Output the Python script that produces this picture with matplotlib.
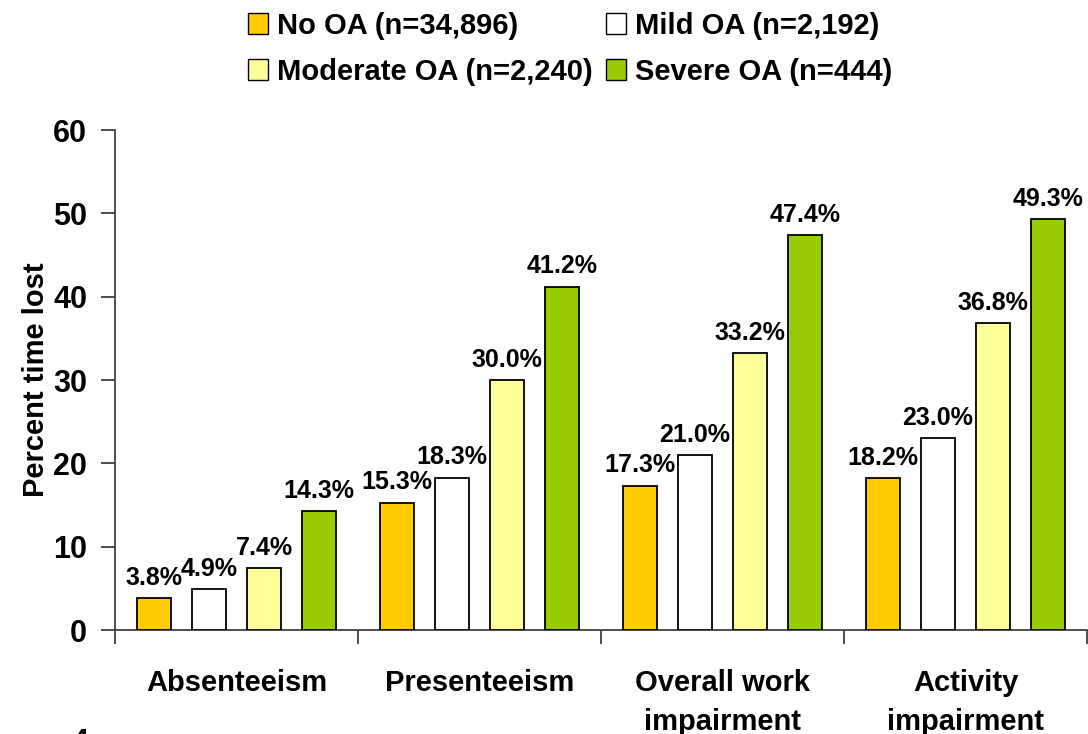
import numpy as np
import matplotlib
matplotlib.use('Agg')
import matplotlib.pyplot as plt
from matplotlib.patches import Patch

plt.rcParams['font.family'] = ['Liberation Sans', 'DejaVu Sans']
plt.rcParams['font.weight'] = 'bold'

categories = ['Absenteeism', 'Presenteeism', 'Overall work\nimpairment', 'Activity\nimpairment']
series = ['No OA (n=34,896)', 'Mild OA (n=2,192)', 'Moderate OA (n=2,240)', 'Severe OA (n=444)']
no_oa = [3.8, 15.3, 17.3, 18.2]
mild_oa = [4.9, 18.3, 21.0, 23.0]
moderate_oa = [7.4, 30.0, 33.2, 36.8]
severe_oa = [14.3, 41.2, 47.4, 49.3]
colors = ['#FFCC00', '#FFFFFF', '#FFFF99', '#99CC00']

fig = plt.figure(figsize=(10.88, 7.34), dpi=100)
ax = fig.add_axes([115/1088, 1 - 630/734, 972/1088, 500/734])

x = np.arange(len(categories))
width = 0.14
step = 0.227
for i, vals in enumerate([no_oa, mild_oa, moderate_oa, severe_oa]):
    pos = x + (i - 1.5) * step
    bars = ax.bar(pos, vals, width, color=colors[i], edgecolor='black', linewidth=1.3,
                  label=series[i], zorder=3)
    for b, v in zip(bars, vals):
        ax.annotate('%.1f%%' % v, (b.get_x() + b.get_width() / 2, v), xytext=(0, 6),
                    textcoords='offset points', ha='center', va='bottom',
                    fontsize=18, fontweight='bold')

ax.set_xlim(-0.5, 3.5)
ax.set_ylim(0, 60)
ax.set_yticks(range(0, 61, 10))
ax.set_xticks(x)
ax.set_xticklabels(categories, fontsize=21, fontweight='bold', linespacing=1.5)
ax.set_xticks(np.arange(-0.5, 4.0, 1.0), minor=True)
ax.tick_params(axis='x', which='major', length=0, pad=28)
ax.tick_params(axis='x', which='minor', length=10, width=1.3, color='#404040', direction='out')
ax.tick_params(axis='y', length=10, width=1.3, color='#404040', labelsize=22, pad=10)
for lab in ax.get_yticklabels():
    lab.set_fontweight('bold')

for s in ['top', 'right']:
    ax.spines[s].set_visible(False)
for s in ['left', 'bottom']:
    ax.spines[s].set_color('#404040')
    ax.spines[s].set_linewidth(1.3)

ax.set_ylabel('Percent time lost', fontsize=21, fontweight='bold', labelpad=2)

# legend filled column-wise, so reorder to get row-wise reading order
order = [0, 2, 1, 3]
handles = [Patch(facecolor=colors[k], edgecolor='black', linewidth=1.0) for k in order]
labels = [series[k] for k in order]
fig.legend(handles, labels, loc='upper center', bbox_to_anchor=(0.524, 1.02), ncol=2,
           frameon=False, handlelength=0.7, handleheight=0.7,
           handletextpad=0.3, columnspacing=0.45, labelspacing=0.62,
           prop={'weight': 'bold', 'size': 21})

fig.text(80/1088, -0.012, '4', fontsize=22, fontweight='bold', ha='center', va='center')

fig.savefig('out.png', dpi=100)
